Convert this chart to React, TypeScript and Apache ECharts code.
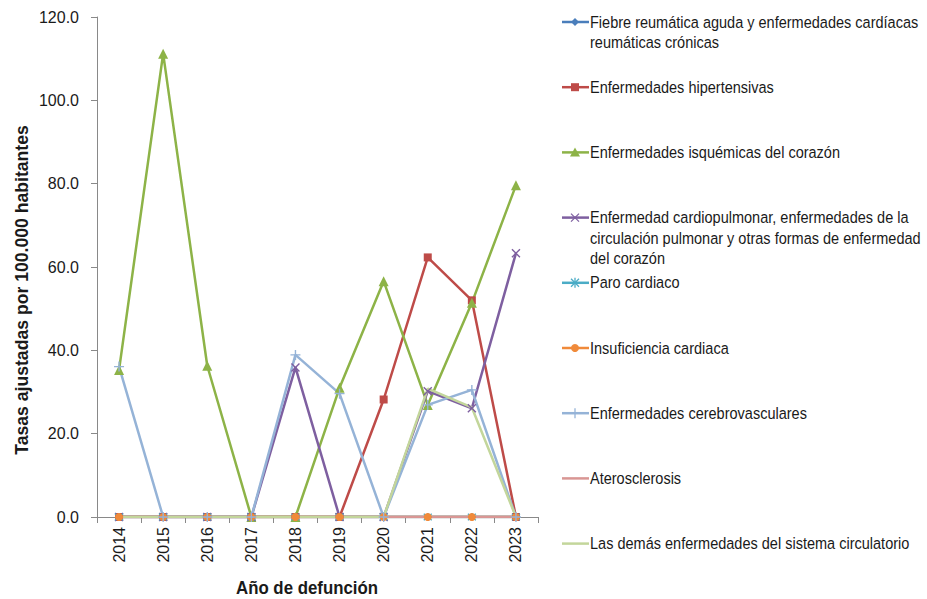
import React, { useEffect, useRef } from "react";
import * as echarts from "echarts";

const years = ["2014", "2015", "2016", "2017", "2018", "2019", "2020", "2021", "2022", "2023"];
const yTicks = [0, 20, 40, 60, 80, 100, 120];

const fiebre = [0, 0, 0, 0, 0, 0, 0, 0, 0, 0];
const hipertensivas = [0, 0, 0, 0, 0, 0, 28.2, 62.3, 52.0, 0];
const isquemicas = [35.3, 111.2, 36.3, 0, 0, 31.0, 56.6, 26.9, 51.4, 79.6];
const cardiopulmonar = [0, 0, 0, 0, 35.9, 0, 0, 30.2, 26.1, 63.3];
const paro = [0, 0, 0, 0, 0, 0, 0, 0, 0, 0];
const insuficiencia = [0, 0, 0, 0, 0, 0, 0, 0, 0, 0];
const cerebro = [36.1, 0, 0, 0, 38.9, 29.6, 0, 26.9, 30.5, 0];
const aterosclerosis = [0, 0, 0, 0, 0, 0, 0, 0, 0, 0];
const demas = [0, 0, 0, 0, 0, 0, 0, 30.8, 26.3, 0];

const seriesNames = [
  "Fiebre reumática aguda y enfermedades cardíacas\nreumáticas crónicas",
  "Enfermedades hipertensivas",
  "Enfermedades isquémicas del corazón",
  "Enfermedad cardiopulmonar, enfermedades de la\ncirculación pulmonar y otras formas de enfermedad\ndel corazón",
  "Paro cardiaco",
  "Insuficiencia cardiaca",
  "Enfermedades cerebrovasculares",
  "Aterosclerosis",
  "Las demás enfermedades del sistema circulatorio",
];
const seriesData = [fiebre, hipertensivas, isquemicas, cardiopulmonar, paro, insuficiencia, cerebro, aterosclerosis, demas];
const colors = ["#4A7EBB", "#BE4B48", "#8DB347", "#7E5FA0", "#4BACC6", "#F08A3A", "#95B3D7", "#D99694", "#C3D69B"];
const markers = ["diamond", "square", "triangle", "x", "star", "circle", "plus", "none", "none"];

const yTitle = "Tasas ajustadas por 100.000 habitantes";
const xTitle = "Año de defunción";

const X_PATH = "path://M0,0L10,10M10,0L0,10";
const STAR_PATH = "path://M5,0L5,10M1,1L9,9M9,1L1,9";
const PLUS_PATH = "path://M5,0L5,10M0,5L10,5";

function symbolFor(m: string): string {
  switch (m) {
    case "diamond": return "diamond";
    case "square": return "rect";
    case "triangle": return "triangle";
    case "circle": return "circle";
    case "x": return X_PATH;
    case "star": return STAR_PATH;
    case "plus": return PLUS_PATH;
    default: return "none";
  }
}

function symbolSizeFor(m: string): number {
  switch (m) {
    case "diamond": return 8;
    case "square": return 8;
    case "triangle": return 10;
    case "circle": return 8;
    case "x": return 8;
    case "star": return 8;
    case "plus": return 10;
    default: return 0;
  }
}

const SANS = "'Liberation Sans', Arial, sans-serif";
const LEGEND_FONT = `17px ${SANS}`;
const TITLE_FONT = `bold 19px ${SANS}`;

function measure(text: string, font: string): number {
  const c = document.createElement("canvas");
  const ctx = c.getContext("2d");
  if (!ctx) return 1;
  ctx.font = font;
  return ctx.measureText(text).width || 1;
}

function legendMarker(m: string, cx: number, cy: number, color: string): any[] {
  const s = 4;
  const stroke = { stroke: color, lineWidth: 1.3 };
  switch (m) {
    case "diamond":
      return [{ type: "polygon", shape: { points: [[cx, cy - s], [cx + s, cy], [cx, cy + s], [cx - s, cy]] }, style: { fill: color } }];
    case "square":
      return [{ type: "rect", shape: { x: cx - s, y: cy - s, width: 2 * s, height: 2 * s }, style: { fill: color } }];
    case "triangle":
      return [{ type: "polygon", shape: { points: [[cx, cy - s - 1], [cx + s + 1, cy + s], [cx - s - 1, cy + s]] }, style: { fill: color } }];
    case "circle":
      return [{ type: "circle", shape: { cx, cy, r: s }, style: { fill: color } }];
    case "x":
      return [
        { type: "line", shape: { x1: cx - s, y1: cy - s, x2: cx + s, y2: cy + s }, style: stroke },
        { type: "line", shape: { x1: cx + s, y1: cy - s, x2: cx - s, y2: cy + s }, style: stroke },
      ];
    case "star":
      return [
        { type: "line", shape: { x1: cx - s, y1: cy - s, x2: cx + s, y2: cy + s }, style: stroke },
        { type: "line", shape: { x1: cx + s, y1: cy - s, x2: cx - s, y2: cy + s }, style: stroke },
        { type: "line", shape: { x1: cx, y1: cy - s - 1, x2: cx, y2: cy + s + 1 }, style: stroke },
      ];
    case "plus":
      return [
        { type: "line", shape: { x1: cx, y1: cy - s - 1, x2: cx, y2: cy + s + 1 }, style: stroke },
      ];
    default:
      return [];
  }
}

export default function App() {
  const ref = useRef<HTMLDivElement>(null);

  useEffect(() => {
    if (!ref.current) return;
    const chart = echarts.init(ref.current, null, { renderer: "svg" });

    // horizontal compression to mimic a narrow typeface
    const legendScale = 184 / measure(seriesNames[1], LEGEND_FONT);
    const yTitleScale = 330 / measure(yTitle, TITLE_FONT);
    const xTitleScale = 142 / measure(xTitle, TITLE_FONT);

    const legendGraphics: any[] = [];
    const slot0 = 22;
    const slotH = 65.2;
    seriesNames.forEach((name, i) => {
      const cy = slot0 + i * slotH;
      legendGraphics.push({
        type: "line",
        shape: { x1: 562, y1: cy, x2: 589, y2: cy },
        style: { stroke: colors[i], lineWidth: 2.5 },
      });
      legendMarker(markers[i], 575, cy, colors[i]).forEach((g) => legendGraphics.push(g));
      legendGraphics.push({
        type: "text",
        x: 590,
        y: cy - 10.5,
        scaleX: legendScale,
        style: {
          text: name,
          fill: "#1a1a1a",
          font: LEGEND_FONT,
          lineHeight: 20.5,
          textVerticalAlign: "top",
          textAlign: "left",
        },
      });
    });

    const option: any = {
      animation: false,
      backgroundColor: "#ffffff",
      grid: { left: 97, right: 389, top: 17, bottom: 82, containLabel: false },
      xAxis: {
        type: "category",
        data: years,
        boundaryGap: true,
        axisLine: { lineStyle: { color: "#898989", width: 1 } },
        axisTick: { show: true, length: 6, alignWithLabel: false, lineStyle: { color: "#898989" } },
        axisLabel: { rotate: 90, margin: 10, color: "#1a1a1a", fontSize: 16, fontFamily: SANS, interval: 0 },
        splitLine: { show: false },
      },
      yAxis: {
        type: "value",
        min: yTicks[0],
        max: yTicks[yTicks.length - 1],
        interval: yTicks[1] - yTicks[0],
        axisLine: { show: true, lineStyle: { color: "#898989", width: 1 } },
        axisTick: { show: true, length: 6, lineStyle: { color: "#898989" } },
        axisLabel: { margin: 18, color: "#1a1a1a", fontSize: 16, fontFamily: SANS, formatter: (v: number) => v.toFixed(1) },
        splitLine: { show: false },
      },
      series: seriesNames.map((name, i) => ({
        name,
        type: "line",
        data: seriesData[i],
        symbol: symbolFor(markers[i]),
        symbolSize: symbolSizeFor(markers[i]),
        showAllSymbol: true,
        lineStyle: { color: colors[i], width: 2.5 },
        itemStyle: { color: colors[i], borderColor: colors[i], borderWidth: ["x", "star", "plus"].includes(markers[i]) ? 1.4 : 0 },
        emphasis: { disabled: true },
      })),
      graphic: [
        ...legendGraphics,
        {
          type: "text",
          x: 21,
          y: 290,
          rotation: Math.PI / 2,
          scaleX: yTitleScale,
          style: {
            text: yTitle,
            font: TITLE_FONT,
            fill: "#1a1a1a",
            textAlign: "center",
            textVerticalAlign: "middle",
          },
        },
        {
          type: "text",
          x: 307,
          y: 588,
          scaleX: xTitleScale,
          style: {
            text: xTitle,
            font: TITLE_FONT,
            fill: "#1a1a1a",
            textAlign: "center",
            textVerticalAlign: "middle",
          },
        },
      ],
    };
    chart.setOption(option);
    return () => chart.dispose();
  }, []);

  return <div ref={ref} style={{ position: "fixed", left: 0, top: 0, width: 927, height: 599 }} />;
}
